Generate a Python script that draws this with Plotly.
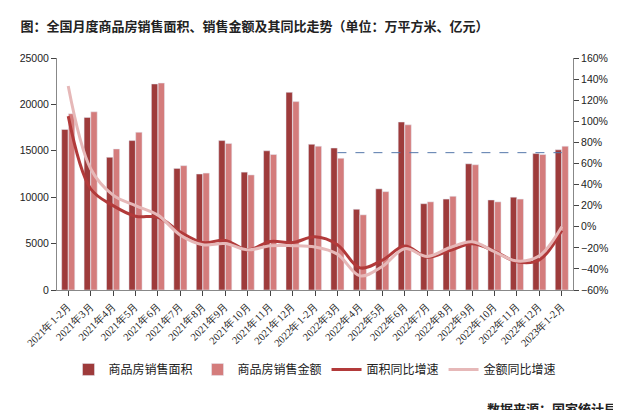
import plotly.graph_objects as go

# categories
months = ["2021年1-2月"] + [f"2021年{m}月" for m in range(3, 13)] + \
         ["2022年1-2月"] + [f"2022年{m}月" for m in range(3, 13)] + ["2023年1-2月"]

# bars (left axis, 万平方米 / 亿元)
area = [17300, 18600, 14300, 16100, 22200, 13100, 12500, 16100, 12700, 15000, 21300,
        15700, 15300, 8700, 10900, 18100, 9300, 9800, 13600, 9700, 10000, 14700, 15100]
sales = [19000, 19200, 15200, 17000, 22300, 13400, 12600, 15800, 12400, 14600, 20300,
         15500, 14200, 8100, 10600, 17800, 9500, 10100, 13500, 9500, 9800, 14600, 15500]

# yoy lines (right axis, %)
area_yoy = [104.9, 36, 20, 10, 9, -5, -15, -13, -22, -14, -15,
            -9.6, -17, -39, -31.8, -18.3, -28.9, -22.6, -16.2, -23.2, -33.3, -31.5, -3.6]
sales_yoy = [133.4, 55, 30, 20, 11, -8, -17, -16, -22, -18, -18,
             -19.3, -26, -46.6, -37.7, -20.8, -28.2, -19.9, -14.2, -23.7, -32.5, -27.6, -0.1]

# reference dashed line
ref_x = ["2022年3月", "2023年1-2月"]
ref_y = [14800, 14800]

fig = go.Figure()
fig.add_trace(go.Bar(x=months, y=area, name="商品房销售面积", marker_color="#9E3B3B"))
fig.add_trace(go.Bar(x=months, y=sales, name="商品房销售金额", marker_color="#D47C7C"))
fig.add_trace(go.Scatter(x=months, y=area_yoy, name="面积同比增速", yaxis="y2", mode="lines",
                         line=dict(color="#B23A3A", width=3, shape="spline")))
fig.add_trace(go.Scatter(x=months, y=sales_yoy, name="金额同比增速", yaxis="y2", mode="lines",
                         line=dict(color="#E6B8B8", width=3, shape="spline")))
fig.add_trace(go.Scatter(x=ref_x, y=ref_y, mode="lines", showlegend=False,
                         line=dict(color="#5577AA", width=1, dash="dash")))

fig.update_layout(
    width=621, height=410,
    paper_bgcolor="white", plot_bgcolor="white",
    font=dict(family="Noto Sans CJK SC", size=11, color="#222"),
    title=dict(text="<b>图：全国月度商品房销售面积、销售金额及其同比走势（单位：万平方米、亿元）</b>",
               x=0.02, y=0.965, font=dict(size=13)),
    margin=dict(l=45, r=56, t=50, b=128),
    barmode="group", bargap=0.4, bargroupgap=0.05,
    xaxis=dict(tickangle=-45, showline=True, linecolor="#888", ticks="outside",
               tickfont=dict(family="Liberation Serif", size=10.5)),
    yaxis=dict(range=[0, 25000], dtick=5000, tickformat="d", showgrid=False, showline=True,
               linecolor="#888", ticks="outside", tickfont=dict(family="Liberation Sans", size=10.5)),
    yaxis2=dict(range=[-60, 160], dtick=20, ticksuffix="%", overlaying="y", side="right",
                showgrid=False, showline=True, linecolor="#888", ticks="outside",
                zeroline=False, tickfont=dict(family="Liberation Sans", size=10.5)),
    legend=dict(orientation="h", x=0.5, xanchor="center", y=-0.28, yanchor="top",
                font=dict(size=12)),
    annotations=[dict(text="<b>数据来源：国家统计局</b>", xref="paper", yref="paper",
                      x=1.09, xanchor="right", y=-0.51, yanchor="middle", showarrow=False,
                      font=dict(size=13))],
)

fig.write_html("out.html")
